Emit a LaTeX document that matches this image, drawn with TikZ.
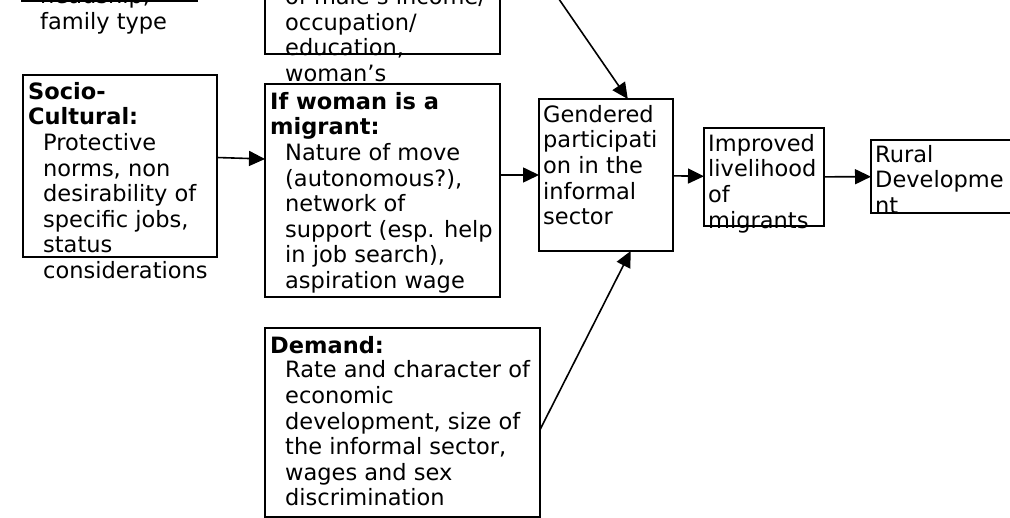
\documentclass[tikz,border=0pt]{standalone}
\usepackage{fontspec}
\setmainfont{DejaVu Sans}
\usetikzlibrary{positioning,arrows.meta}

\begin{document}
\begin{tikzpicture}[
  x=1pt, y=-1pt,
  chart box/.style ={draw, line width=1.6pt, inner sep=0pt, outer sep=0pt, anchor=north west},
  chart text/.style={inner sep=0pt, align=left, font=\fontsize{22.5pt}{25.6pt}\selectfont,
                     execute at begin node=\strut},
  chart head/.style={chart text, font=\fontsize{22.5pt}{25.6pt}\selectfont\bfseries},
  chart link/.style={draw, line width=1.6pt, -{Triangle[length=16pt, width=15pt]}},
]
%%%%%%%%%%%%%%%%%%%%%%%%%%%%%%%%%%%%%%%%%%%%%%%%%%%%%%%%%%%%%%%%%%%%%%%%%%%%%%%%%%%%%%%%%
%
%   FRAME
%
%%%%%%%%%%%%%%%%%%%%%%%%%%%%%%%%%%%%%%%%%%%%%%%%%%%%%%%%%%%%%%%%%%%%%%%%%%%%%%%%%%%%%%%%%
\useasboundingbox (0,0) rectangle (1010,518);
\clip (0,0) rectangle (1010,518);

%%%%%%%%%%%%%%%%%%%%%%%%%%%%%%%%%%%%%%%%%%%%%%%%%%%%%%%%%%%%%%%%%%%%%%%%%%%%%%%%%%%%%%%%%
%
%   BOXES
%
%%%%%%%%%%%%%%%%%%%%%%%%%%%%%%%%%%%%%%%%%%%%%%%%%%%%%%%%%%%%%%%%%%%%%%%%%%%%%%%%%%%%%%%%%
\node[chart box, minimum width=175pt, minimum height=61pt]   (family)     at (22,-60)  {};
\node[chart box, minimum width=235pt, minimum height=114pt]  (household)  at (265,-60) {};
\node[chart box, minimum width=194pt, minimum height=182pt]  (socio)      at (23,75)   {};
\node[chart box, minimum width=235pt, minimum height=213pt]  (migrant)    at (265,84)  {};
\node[chart box, minimum width=275pt, minimum height=189pt]  (demand)     at (265,328) {};
\node[chart box, minimum width=134pt, minimum height=152pt]  (gendered)   at (539,99)  {};
\node[chart box, minimum width=120pt, minimum height=98pt]   (livelihood) at (704,128) {};
\node[chart box, minimum width=144pt, minimum height=73pt]   (rural)      at (871,140) {};

%%%%%%%%%%%%%%%%%%%%%%%%%%%%%%%%%%%%%%%%%%%%%%%%%%%%%%%%%%%%%%%%%%%%%%%%%%%%%%%%%%%%%%%%%
%
%   TEXTS (they run over the box borders, as in the original)
%
%%%%%%%%%%%%%%%%%%%%%%%%%%%%%%%%%%%%%%%%%%%%%%%%%%%%%%%%%%%%%%%%%%%%%%%%%%%%%%%%%%%%%%%%%
\node[chart text, below right=46.5pt and 18pt of family.north west] (familyText)
  {headship,\\family type};
\node[chart text, below right=47.5pt and 20pt of household.north west] (householdText)
  {of male’s income/\\occupation/\\education,\\woman’s};

\node[chart head, below right=7.1pt and 5pt of socio.north west] (socioHead)
  {Socio-\\Cultural:};
\node[chart text, below right=58.3pt and 20pt of socio.north west] (socioText)
  {Protective\\norms, non\\desirability of\\specific jobs,\\status\\considerations};

\node[chart head, below right=8.1pt and 5pt of migrant.north west] (migrantHead)
  {If woman is a\\migrant:};
\node[chart text, below right=59.3pt and 20pt of migrant.north west] (migrantText)
  {Nature of move\\(autonomous?),\\network of\\support (esp. help\\in job search),\\aspiration wage};

\node[chart head, below right=7.1pt and 5pt of demand.north west] (demandHead)
  {Demand:};
\node[chart text, below right=32.7pt and 20pt of demand.north west] (demandText)
  {Rate and character of\\economic\\development, size of\\the informal sector,\\wages and sex\\discrimination};

\node[chart text, below right=6.1pt and 4pt of gendered.north west] (genderedText)
  {Gendered\\participati\\on in the\\informal\\sector};
\node[chart text, below right=6.1pt and 4pt of livelihood.north west] (livelihoodText)
  {Improved\\livelihood\\of\\migrants};
\node[chart text, below right=5.1pt and 4pt of rural.north west] (ruralText)
  {Rural\\Developme\\nt};

%%%%%%%%%%%%%%%%%%%%%%%%%%%%%%%%%%%%%%%%%%%%%%%%%%%%%%%%%%%%%%%%%%%%%%%%%%%%%%%%%%%%%%%%%
%
%   LINKS
%
%%%%%%%%%%%%%%%%%%%%%%%%%%%%%%%%%%%%%%%%%%%%%%%%%%%%%%%%%%%%%%%%%%%%%%%%%%%%%%%%%%%%%%%%%
\coordinate (upstream) at (532,-40);

\draw[chart link] (upstream) -- (gendered.74);
\draw[chart link] (socio.5) -- (migrant.165);
\draw[chart link] (migrant.east |- gendered.west) -- (gendered.west);
\draw[chart link] (gendered) -- (livelihood);
\draw[chart link] (livelihood) -- (rural);
\draw[chart link] (demand.-3) -- (gendered.-72);

\end{tikzpicture}
\end{document}
